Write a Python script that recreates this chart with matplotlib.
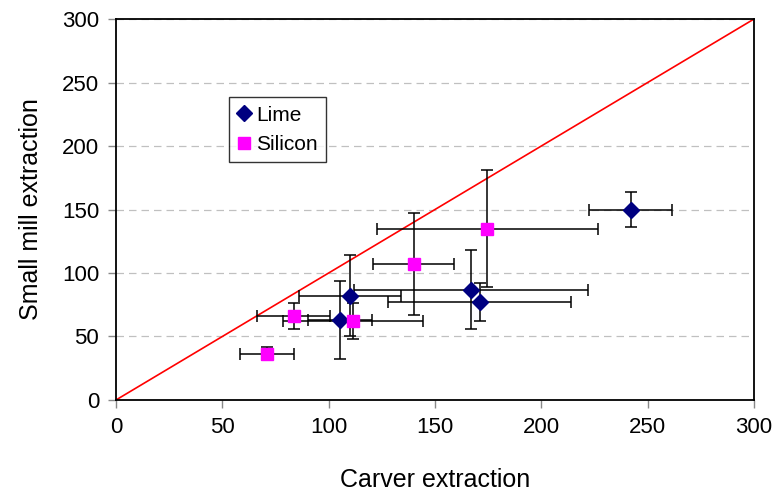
import matplotlib.pyplot as plt

plt.rcParams['font.family'] = ['Liberation Sans', 'DejaVu Sans']

# Lime series
lime_x = [105.5, 110, 167, 171, 242]
lime_y = [63, 82, 87, 77, 150]
lime_xerr = [15, 24, 55, 43, 19.5]
lime_yerr = [31, 32, 31, 15, 14]

# Silicon series
si_x = [71, 83.5, 111.5, 140, 174.5]
si_y = [36.5, 66, 62, 107, 135]
si_xerr = [12.5, 17, 33, 19, 52]
si_yerr = [5, 10, 14, 40, 46]

ticks = [0, 50, 100, 150, 200, 250, 300]

fig = plt.figure(figsize=(7.82, 4.94), dpi=100)
ax = fig.add_axes([0.1483, 0.1903, 0.8159, 0.7712])

# 1:1 line
ax.plot([0, 300], [0, 300], color='red', lw=1.2, zorder=2)

ax.errorbar(lime_x, lime_y, xerr=lime_xerr, yerr=lime_yerr, fmt='none',
            ecolor='black', elinewidth=1.1, capsize=4, capthick=1.1, zorder=3)
ax.errorbar(si_x, si_y, xerr=si_xerr, yerr=si_yerr, fmt='none',
            ecolor='black', elinewidth=1.1, capsize=4, capthick=1.1, zorder=3)
ax.plot(lime_x, lime_y, 'D', color='#000080', ms=8, ls='none', label='Lime', zorder=4)
ax.plot(si_x, si_y, 's', color='#ff00ff', ms=9, ls='none', label='Silicon', zorder=4)

ax.set_xlim(0, 300)
ax.set_ylim(0, 300)
ax.set_xticks(ticks)
ax.set_yticks(ticks)
ax.yaxis.grid(True, color='#c0c0c0', ls=(0, (6, 4)), lw=0.9)
ax.set_axisbelow(True)
ax.tick_params(direction='out', color='#888888', length=6, width=1,
               labelsize=16, pad=6)
for s in ax.spines.values():
    s.set_color('black')
    s.set_linewidth(1.3)

ax.set_xlabel('Carver extraction', fontsize=18, labelpad=22)
ax.set_ylabel('Small mill extraction', fontsize=18, labelpad=14)

leg = ax.legend(loc='upper left', bbox_to_anchor=(0.1776, 0.7945),
                fontsize=15, frameon=True, fancybox=False, handlelength=0.6,
                handletextpad=0.3, borderpad=0.4, labelspacing=0.5,
                borderaxespad=0)
leg.get_frame().set_edgecolor('black')
leg.get_frame().set_linewidth(1.0)

fig.savefig('out.png', dpi=100)
